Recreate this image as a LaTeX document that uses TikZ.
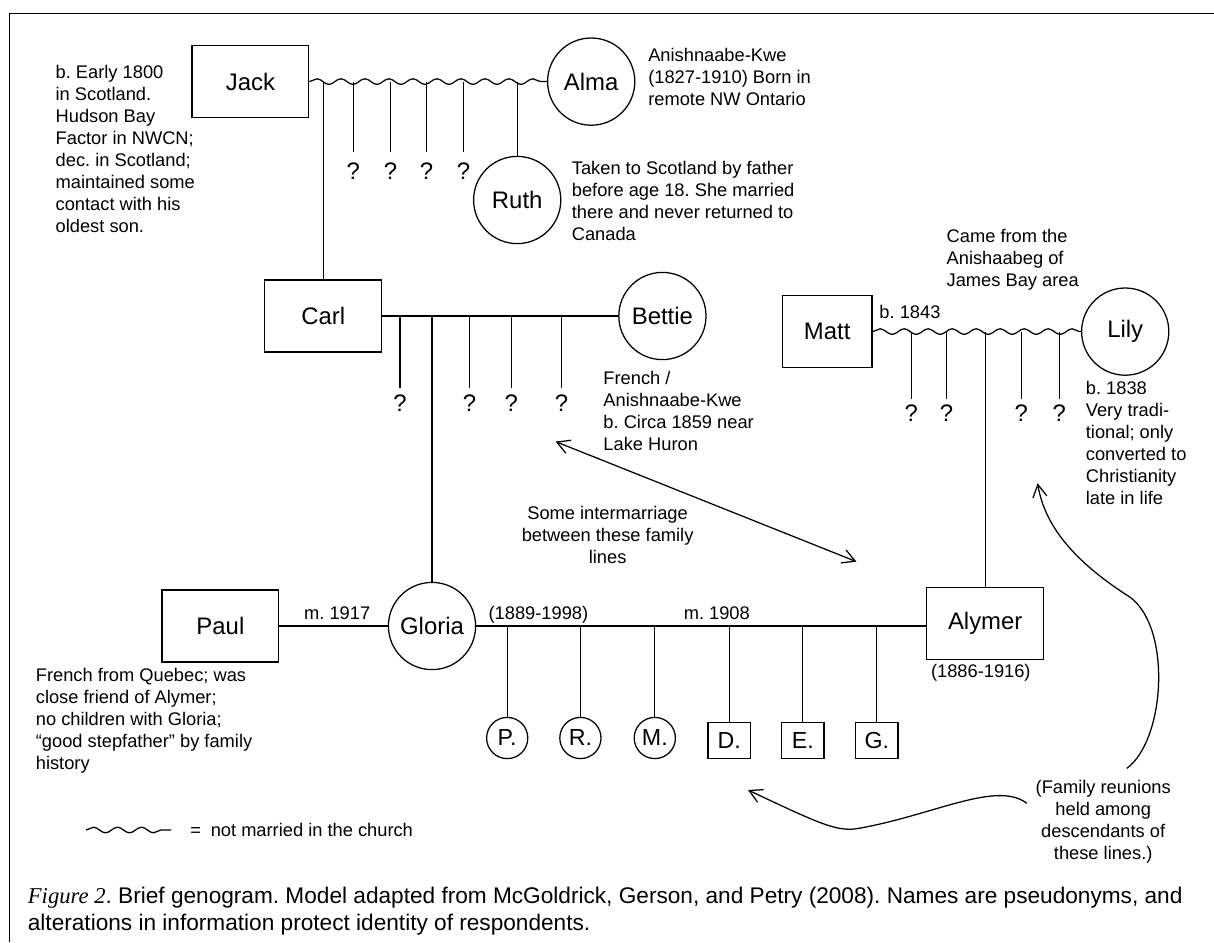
\documentclass[tikz,border=0pt]{standalone}
\usepackage{fontspec}
\setmainfont{Liberation Sans}
\newfontfamily\figserif{Liberation Serif}
\usetikzlibrary{arrows.meta,positioning,decorations.pathmorphing}
\frenchspacing
\newcommand{\notesize}{\fontsize{13}{15.65}\selectfont}
\newcommand{\namesize}{\fontsize{17}{20}\selectfont}
\newcommand{\kidsize}{\fontsize{16.5}{19}\selectfont}
\newcommand{\figsize}{\fontsize{16.1}{19}\selectfont}

\begin{document}
\begin{tikzpicture}[
  male/.style={rectangle, draw, line width=0.9pt, minimum width=2.92cm,
               minimum height=1.8cm, inner sep=0pt, font=\namesize},
  female/.style={circle, draw, line width=0.9pt, minimum size=2.18cm,
                 inner sep=0pt, font=\namesize},
  sonbox/.style={rectangle, draw, line width=0.9pt, minimum width=1.06cm,
                 minimum height=0.89cm, inner sep=0pt, font=\kidsize},
  daughter/.style={circle, draw, line width=0.9pt, minimum size=1.03cm,
                   inner sep=0pt, font=\kidsize},
  note/.style={inner sep=0pt, align=left, font=\notesize},
  qm/.style={inner sep=0pt, font=\namesize},
  tie/.style={line width=0.9pt},
  loose/.style={line width=0.9pt, decorate,
                decoration={snake, segment length=0.6cm, amplitude=0.07cm}},
  tipboth/.style={line width=0.9pt,
                  {Straight Barb[length=9pt,width=10pt]}-{Straight Barb[length=9pt,width=10pt]}},
  tipend/.style={line width=0.9pt, -{Straight Barb[length=9pt,width=10pt]}}
]
\useasboundingbox (0,0) rectangle (30.35,-23.55);
% Frame
\draw[line width=1.1pt] (0.24,-23.55) |- (30.35,-0.34);

% Jack and Alma
\node[male]   (jack)   at (6.26,-2.04)  {Jack};
\node[female] (alma)   at (14.78,-2.04) {Alma};
\node[female] (ruth)   at (12.93,-5.0)  {Ruth};
\draw[loose] (jack.east) -- (alma.west);
\draw[tie] (ruth.north |- jack.east) -- (ruth.north);
\foreach \x [count=\i] in {8.83,9.76,10.66,11.59} {
  \node[qm] (ja\i) at (\x,-4.29) {?};
  \draw[tie, shorten >=0.28cm] (ja\i.north |- jack.east) -- (ja\i.north);
}

% Carl and Bettie
\node[male]   (carl)   at (8.08,-7.9)   {Carl};
\node[female] (bettie) at (16.56,-7.9)  {Bettie};
\draw[tie] (carl.north |- jack.east) -- (carl.north);
\draw[tie] (carl.east) -- (bettie.west);
\foreach \x [count=\i] in {10.0,11.74,12.78,14.04} {
  \node[qm] (cb\i) at (\x,-10.08) {?};
  \draw[tie, shorten >=0.16cm] (cb\i.north |- carl.east) -- (cb\i.north);
}

% Matt and Lily
\node[male, minimum width=2.24cm] (matt) at (20.68,-8.29) {Matt};
\node[female] (lily)   at (28.13,-8.29) {Lily};
\draw[loose] (matt.east) -- (lily.west);
\foreach \x [count=\i] in {22.78,23.66,25.53,26.48} {
  \node[qm] (ml\i) at (\x,-10.33) {?};
  \draw[tie, shorten >=0.15cm] (ml\i.north |- matt.east) -- (ml\i.north);
}

% Gloria, Paul and Alymer
\node[male]   (paul)   at (5.51,-15.65)  {Paul};
\node[female] (gloria) at (10.8,-15.65)  {Gloria};
\node[male]   (alymer) at (24.63,-15.58) {Alymer};
\draw[tie] (gloria.north |- carl.east) -- (gloria.north);
\draw[tie] (alymer.north |- matt.east) -- (alymer.north);
\draw[tie] (paul.east) -- (gloria.west);
\draw[tie] (gloria.east) -- (gloria.east -| alymer.west);

% Children
\node[daughter] (kp) at (12.68,-18.45) {P.};
\node[daughter] (kr) at (14.51,-18.45) {R.};
\node[daughter] (km) at (16.37,-18.45) {M.};
\node[sonbox]   (kd) at (18.23,-18.51) {D.};
\node[sonbox]   (ke) at (20.07,-18.51) {E.};
\node[sonbox]   (kg) at (21.92,-18.51) {G.};
\foreach \k in {kp,kr,km,kd,ke,kg}
  \draw[tie] (\k.north |- gloria.east) -- (\k.north);

% Notes
\node[note, anchor=north west] (jacknote) at (1.385,-1.62)
  {b. Early 1800\\in Scotland.\\Hudson Bay\\Factor in NWCN;\\dec. in Scotland;\\maintained some\\contact with his\\oldest son.};
\node[note, anchor=north west] (almanote) at (16.2,-1.2)
  {Anishnaabe-Kwe\\(1827-1910) Born in\\remote NW Ontario};
\node[note, anchor=north west] (ruthnote) at (14.29,-4.03)
  {Taken to Scotland by father\\before age 18. She married\\there and never returned to\\Canada};
\node[note, anchor=north west] (lilyfrom) at (23.66,-5.73)
  {Came from the\\Anishaabeg of\\James Bay area};
\node[note, anchor=west] (mattborn) at (21.98,-7.79) {b. 1843};
\node[note, anchor=north west] (bettienote) at (15.08,-9.28)
  {French /\\Anishnaabe-Kwe\\b. Circa 1859 near\\Lake Huron};
\node[note, anchor=north west] (lilynote) at (27.14,-9.53)
  {b. 1838\\Very tradi-\\tional; only\\converted to\\Christianity\\late in life};
\node[note, anchor=north west] (paulnote) at (0.89,-16.7)
  {French from Quebec; was\\close friend of Alymer;\\no children with Gloria;\\“good stepfather” by family\\history};
\node[note] (m1917)  at (8.43,-15.32)  {m. 1917};
\node[note] (gdates) at (13.46,-15.38) {(1889-1998)};
\node[note] (m1908)  at (17.92,-15.32) {m. 1908};
\node[note] (adates) at (24.52,-16.83) {(1886-1916)};

% Intermarriage
\node[note, align=center, anchor=north] (mixnote) at (15.19,-12.66)
  {Some intermarriage\\between these family\\lines};
\coordinate (mix1) at (13.89,-11.04);
\coordinate (mix2) at (21.41,-14.04);
\draw[tipboth] (mix1) -- (mix2);

% Reunions
\node[note, align=center, anchor=north] (reunote) at (27.58,-19.49)
  {(Family reunions\\held among\\descendants of\\these lines.)};
\coordinate (reu1) at (28.17,-19.21);
\coordinate (reu2) at (25.94,-12.08);
\coordinate (reu3) at (25.67,-20.08);
\coordinate (reu4) at (18.7,-19.75);
\draw[tipend] (reu1) .. controls (29.13,-18.5) and (29.3,-15.7) .. (28.25,-14.93)
  .. controls (27.0,-14.13) and (26.13,-13.25) .. (reu2);
\draw[tipend] (reu3) .. controls (24.9,-19.5) and (23.3,-20.4) .. (21.4,-20.72)
  .. controls (20.9,-20.78) and (20.5,-20.6) .. (reu4);

% Legend
\coordinate (lega) at (2.15,-20.75);
\coordinate (legb) at (4.28,-20.75);
\draw[loose] (lega) -- (legb);
\node[note, anchor=west] (legend) at (4.75,-20.75) {=\hspace{7pt}not married in the church};

% Caption
\node[inner sep=0pt, align=left, anchor=north west, font=\figsize] (caption) at (0.69,-22.18)
  {{\figserif\itshape Figure 2}. Brief genogram. Model adapted from McGoldrick, Gerson, and Petry (2008). Names are pseudonyms, and\\alterations in information protect identity of respondents.};
\end{tikzpicture}
\end{document}
